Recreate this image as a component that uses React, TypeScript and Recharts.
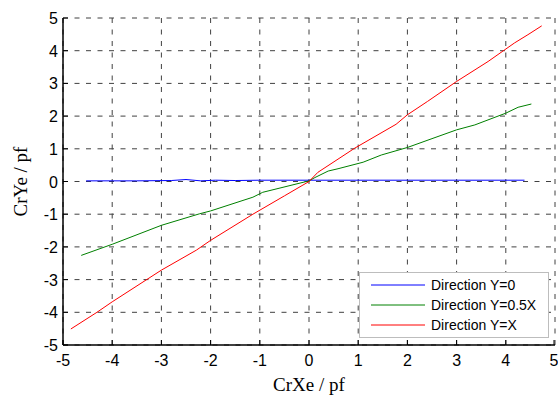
import { CartesianGrid, Legend, Line, LineChart, XAxis, YAxis } from "recharts";

const ticks = [-5, -4, -3, -2, -1, 0, 1, 2, 3, 4, 5];

const blueX = [-4.53, -3.5, -2.8, -2.5, -2.2, -1.9, -1.5, -1.0, 0, 1, 2, 3, 4.38];
const blueY = [0.02, 0.02, 0.03, 0.06, 0.02, 0.04, 0.03, 0.04, 0.04, 0.04, 0.04, 0.04, 0.04];

const greenX = [-4.63, -4.0, -3.0, -2.23, -2.0, -1.14, -0.94, 0, 0.12, 0.39, 0.59, 1.1, 1.47, 2.0, 2.48, 3.0, 3.37, 4.0, 4.25, 4.52];
const greenY = [-2.26, -1.92, -1.34, -0.99, -0.9, -0.48, -0.33, 0.02, 0.12, 0.32, 0.39, 0.59, 0.81, 1.04, 1.3, 1.58, 1.73, 2.09, 2.27, 2.37];

const redX = [-4.84, -4.31, -4.0, -3.0, -2.29, -2.0, -1.14, -0.5, 0, 0.18, 0.93, 1.77, 2.0, 2.41, 3.0, 3.64, 3.98, 4.18, 4.45, 4.73];
const redY = [-4.51, -4.0, -3.68, -2.71, -2.1, -1.8, -1.0, -0.44, 0, 0.28, 1.02, 1.75, 2.04, 2.45, 3.06, 3.67, 4.03, 4.24, 4.49, 4.76];

const toPoints = (xs: number[], ys: number[]) => xs.map((x, i) => ({ x, y: ys[i] }));

const blueData = toPoints(blueX, blueY);
const greenData = toPoints(greenX, greenY);
const redData = toPoints(redX, redY);

const tickFont = "'Liberation Sans', Arial, Helvetica, sans-serif";
const labelFont = "'Liberation Serif', 'Times New Roman', serif";

const BottomTick = (props: any) => {
	const { x, y, payload } = props;
	return (
		<g>
			<line x1={x} y1={y} x2={x} y2={y - 5} stroke="#000" />
			<text x={x} y={y + 21} textAnchor="middle" fontSize={16} fontFamily={tickFont} fill="#000">
				{payload.value}
			</text>
		</g>
	);
};

const LeftTick = (props: any) => {
	const { x, y, payload } = props;
	return (
		<g>
			<line x1={x} y1={y} x2={x + 5} y2={y} stroke="#000" />
			<text x={x - 5} y={y + 6} textAnchor="end" fontSize={16} fontFamily={tickFont} fill="#000">
				{payload.value}
			</text>
		</g>
	);
};

const TopTick = (props: any) => (
	<line x1={props.x} y1={props.y} x2={props.x} y2={props.y + 5} stroke="#000" />
);

const RightTick = (props: any) => (
	<line x1={props.x} y1={props.y} x2={props.x - 5} y2={props.y} stroke="#000" />
);

const renderLegend = (props: any) => {
	const items = props.payload || [];
	return (
		<div
			style={{
				width: 188,
				height: 64,
				background: "#fff",
				border: "1px solid #bdbdbd",
				boxSizing: "content-box",
			}}
		>
			<svg width={188} height={64}>
				{items.map((item: any, i: number) => (
					<g key={item.value}>
						<line x1={11} x2={65} y1={12 + i * 20} y2={12 + i * 20} stroke={item.color} />
						<text x={71} y={17 + i * 20} fontSize={14} fontFamily={tickFont} fill="#000">
							{item.value}
						</text>
					</g>
				))}
			</svg>
		</div>
	);
};

export default function App() {
	return (
		<div style={{ position: "absolute", left: 0, top: 0, width: 558, height: 396, background: "#fff" }}>
			<LineChart width={558} height={396} margin={{ top: 18, right: 3, bottom: 0, left: 0 }}>
				<CartesianGrid stroke="#404040" strokeDasharray="5 6.5" />
				<XAxis
					dataKey="x"
					type="number"
					domain={[-5, 5]}
					ticks={ticks}
					allowDataOverflow
					height={51}
					tickSize={0}
					tickMargin={0}
					tick={<BottomTick />}
					axisLine={{ stroke: "#000", strokeWidth: 1.5 }}
					label={{
						content: (p: any) => (
							<text
								x={p.viewBox.x + p.viewBox.width / 2}
								y={p.viewBox.y + 46}
								textAnchor="middle"
								fontSize={19}
								fontFamily={labelFont}
								fill="#000"
							>
								CrXe / pf
							</text>
						),
					}}
				/>
				<XAxis
					xAxisId="top"
					orientation="top"
					dataKey="x"
					type="number"
					domain={[-5, 5]}
					ticks={ticks}
					allowDataOverflow
					height={0}
					tickSize={0}
					tickMargin={0}
					tick={<TopTick />}
					axisLine={{ stroke: "#000", strokeWidth: 1.5 }}
				/>
				<YAxis
					dataKey="y"
					type="number"
					domain={[-5, 5]}
					ticks={ticks}
					allowDataOverflow
					width={63}
					tickSize={0}
					tickMargin={0}
					tick={<LeftTick />}
					axisLine={{ stroke: "#000", strokeWidth: 1.5 }}
					label={{
						content: (p: any) => {
							const cx = 27;
							const cy = p.viewBox.y + p.viewBox.height / 2;
							return (
								<text
									x={cx}
									y={cy}
									transform={`rotate(-90 ${cx} ${cy})`}
									textAnchor="middle"
									fontSize={19}
									fontFamily={labelFont}
									fill="#000"
								>
									CrYe / pf
								</text>
							);
						},
					}}
				/>
				<YAxis
					yAxisId="right"
					orientation="right"
					type="number"
					domain={[-5, 5]}
					ticks={ticks}
					allowDataOverflow
					width={0}
					tickSize={0}
					tickMargin={0}
					tick={<RightTick />}
					axisLine={{ stroke: "#000", strokeWidth: 1.5 }}
				/>
				<Legend
					layout="vertical"
					align="center"
					verticalAlign="middle"
					content={renderLegend}
					wrapperStyle={{ position: "absolute", left: 359, top: 272, width: 190, height: 66 }}
				/>
				<Line
					data={blueData}
					dataKey="y"
					name="Direction Y=0"
					stroke="#0000ff"
					strokeWidth={1}
					dot={false}
					activeDot={false}
					type="linear"
					isAnimationActive={false}
				/>
				<Line
					data={greenData}
					dataKey="y"
					name="Direction Y=0.5X"
					stroke="#008000"
					strokeWidth={1}
					dot={false}
					activeDot={false}
					type="linear"
					isAnimationActive={false}
				/>
				<Line
					data={redData}
					dataKey="y"
					name="Direction Y=X"
					stroke="#ff0000"
					strokeWidth={1}
					dot={false}
					activeDot={false}
					type="linear"
					isAnimationActive={false}
				/>
			</LineChart>
		</div>
	);
}
